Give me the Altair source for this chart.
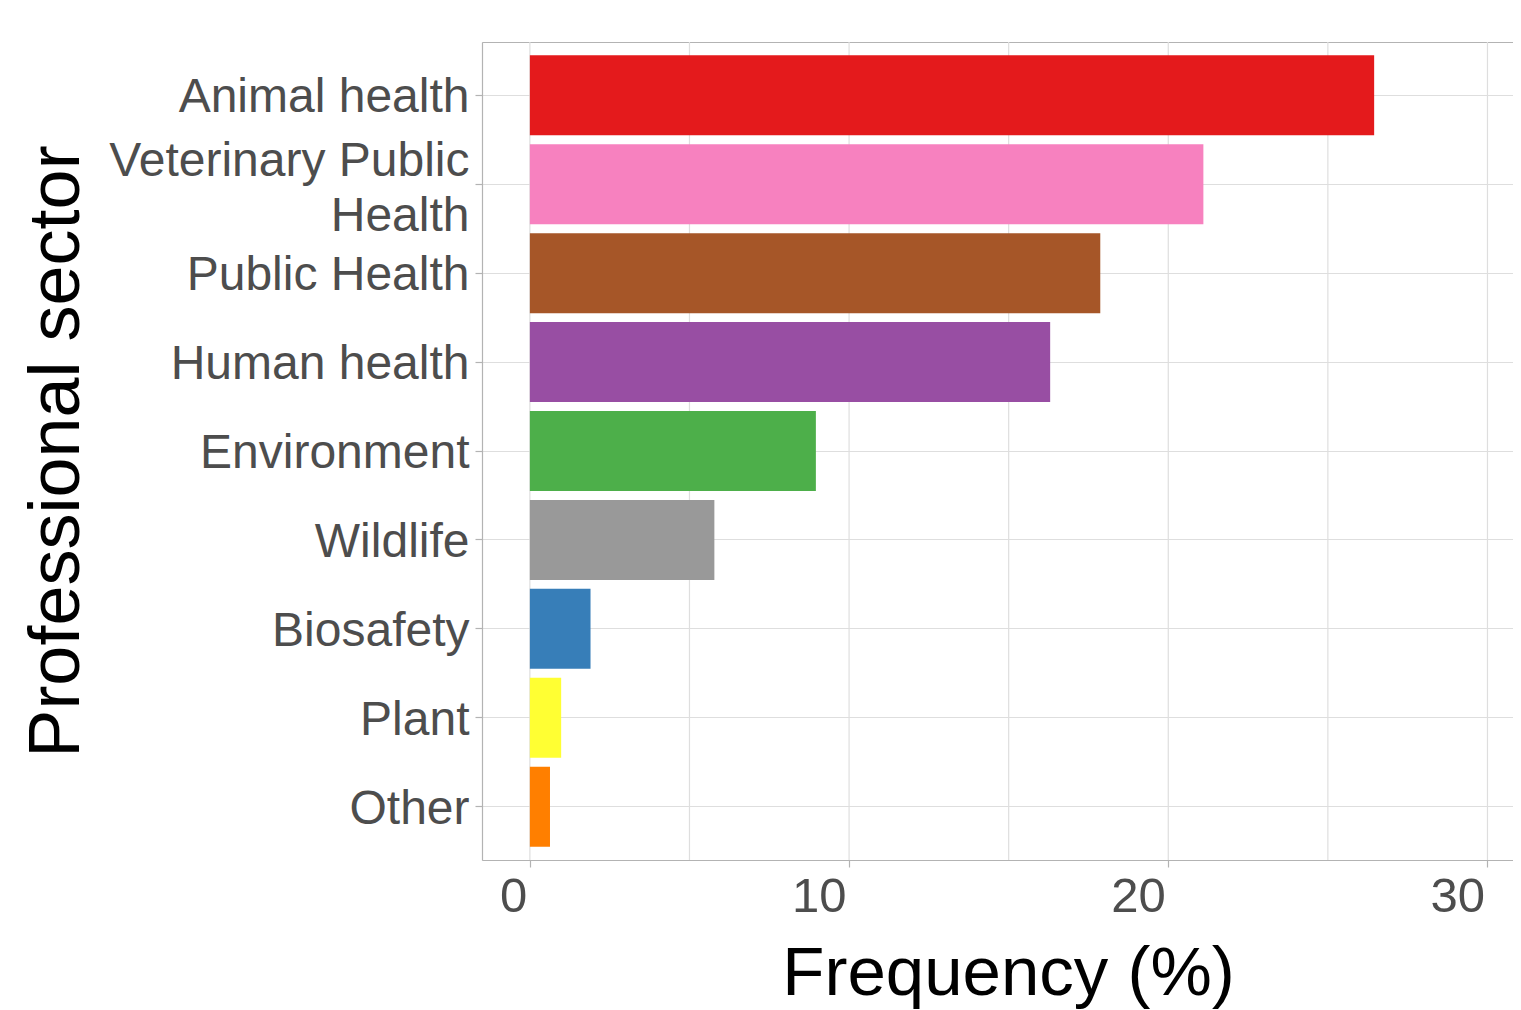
import altair as alt
import pandas as pd

sectors = ["Animal health", "Veterinary Public Health", "Public Health", "Human health",
           "Environment", "Wildlife", "Biosafety", "Plant", "Other"]
frequency = [26.45, 21.1, 17.87, 16.3, 8.96, 5.78, 1.9, 0.98, 0.63]
colors = ["#E41A1C", "#F781BF", "#A65628", "#984EA3", "#4DAF4A",
          "#999999", "#377EB8", "#FFFF33", "#FF7F00"]
x_ticks = [0, 10, 20, 30]
grid_values = [0, 5, 10, 15, 20, 25, 30]

df = pd.DataFrame({"sector": sectors, "freq": frequency})
grid_df = pd.DataFrame({"g": grid_values})

FONT = "Liberation Sans"
xscale = alt.Scale(domain=[-1.5, 30.8], nice=False, zero=False)
yscale = alt.Scale(paddingInner=0.1, paddingOuter=0.15)

grid = alt.Chart(grid_df).mark_rule(color="#DEDEDE", strokeWidth=1.2).encode(
    x=alt.X("g:Q", scale=xscale,
            axis=alt.Axis(orient="top", labels=False, ticks=False, grid=False,
                          domain=True, domainColor="#B3B3B3", domainWidth=1.2, title=None))
)

bars = alt.Chart(df).mark_bar().encode(
    x=alt.X("freq:Q", scale=xscale,
            axis=alt.Axis(values=x_ticks, grid=False, domainColor="#B3B3B3", domainWidth=1.2,
                          tickColor="#B3B3B3", tickSize=7, tickWidth=1.2,
                          labelAlign="right", labelFontSize=49, labelColor="#4D4D4D",
                          labelFont=FONT, labelPadding=5, labelFlush=False, labelOffset=-3,
                          title="Frequency (%)", titleFont=FONT, titleFontSize=69,
                          titleFontWeight="normal", titleColor="#000000",
                          titleBaseline="alphabetic", titleY=134, titleX=526,
                          titleAnchor="middle")),
    y=alt.Y("sector:N", sort=sectors, scale=yscale,
            axis=alt.Axis(grid=True, gridColor="#DEDEDE", gridWidth=1.2, bandPosition=0.5,
                          domainColor="#B3B3B3", domainWidth=1.2,
                          tickColor="#B3B3B3", tickSize=7, tickWidth=1.2,
                          labelFontSize=48, labelColor="#4D4D4D", labelFont=FONT,
                          labelPadding=6, labelLineHeight=55, labelLimit=0,
                          labelOffset={"condition": {"test": "datum.value == 'Veterinary Public Health'",
                                                     "value": -22}, "value": 3},
                          labelExpr="datum.value == 'Veterinary Public Health' ? ['Veterinary Public', 'Health'] : datum.label",
                          title="Professional sector", titleFont=FONT, titleFontSize=72,
                          titleFontWeight="normal", titleColor="#000000",
                          titleAngle=270, titleBaseline="alphabetic",
                          titleX=-404, titleY=409, titleAlign="center")),
    color=alt.Color("sector:N", scale=alt.Scale(domain=sectors, range=colors), legend=None),
)

chart = alt.layer(grid, bars).resolve_axis(x="independent").properties(
    width=1031, height=818,
    autosize=alt.AutoSizeParams(type="none"),
    padding={"left": 474, "top": 34, "right": 0, "bottom": 150},
).configure_view(stroke=None).configure(background="white")

chart.save("out.html", embed_options={"renderer": "svg", "actions": False})
